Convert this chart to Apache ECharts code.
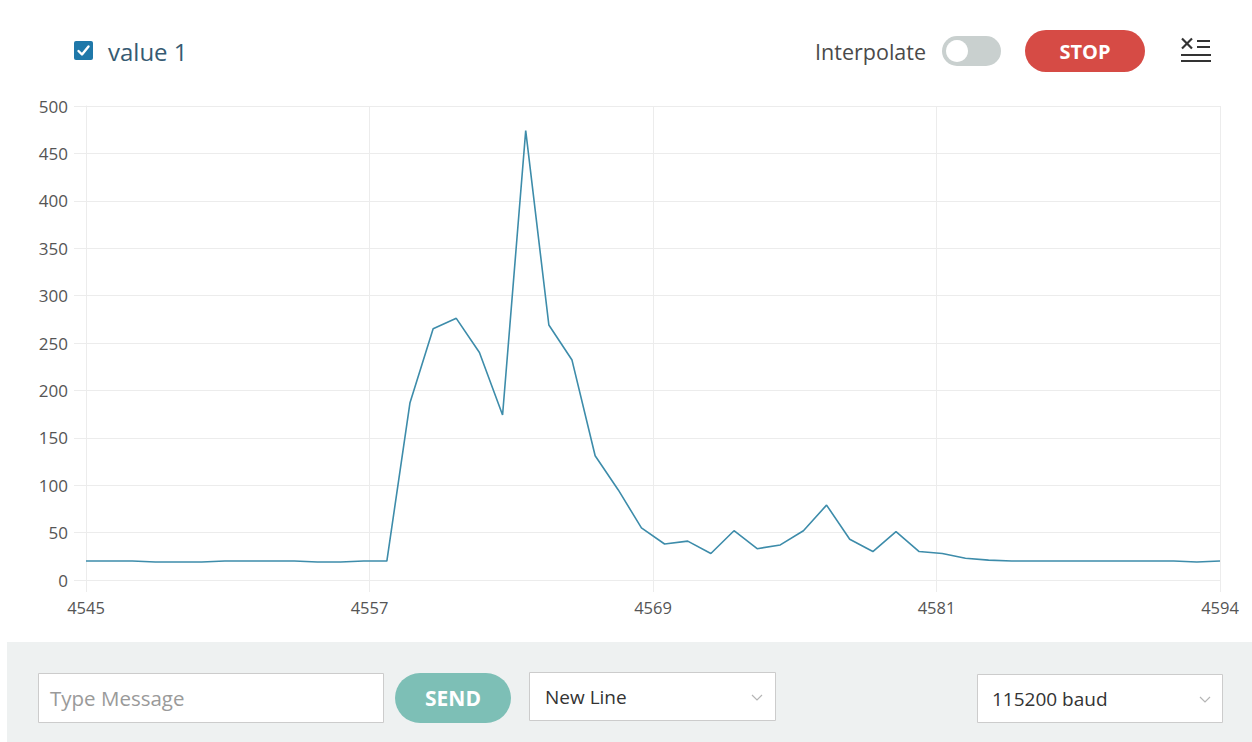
<!DOCTYPE html>
<html>
<head>
<meta charset="utf-8">
<title>Serial Plotter</title>
<script src="https://cdn.jsdelivr.net/npm/echarts@6/dist/echarts.min.js"></script>
<style>
  html, body { margin: 0; padding: 0; background: #ffffff; }
  #chart { width: 1252px; height: 742px; }
</style>
</head>
<body>
<div id="chart"></div>
<script>
// Sample numbers shown along the bottom axis
const samples = [
  4545, 4546, 4547, 4548, 4549, 4550, 4551, 4552, 4553, 4554,
  4555, 4556, 4557, 4558, 4559, 4560, 4561, 4562, 4563, 4564,
  4565, 4566, 4567, 4568, 4569, 4570, 4571, 4572, 4573, 4574,
  4575, 4576, 4577, 4578, 4579, 4580, 4581, 4582, 4583, 4584,
  4585, 4586, 4587, 4588, 4589, 4590, 4591, 4592, 4593, 4594
];
// Readings of "value 1"
const value1 = [
  20, 20, 20, 19, 19, 19, 20, 20, 20, 20,
  19, 19, 20, 20, 187, 265, 276, 240, 174, 474,
  269, 232, 131, 95, 55, 38, 41, 28, 52, 33,
  37, 52, 79, 43, 30, 51, 30, 28, 23, 21,
  20, 20, 20, 20, 20, 20, 20, 20, 19, 20
];
// Bottom axis ticks: the visible window split into four equal parts
const xTicks = [4545, 4557.25, 4569.5, 4581.75, 4594];
const yTicks = { min: 0, max: 500, step: 50 };

const seriesName = 'value 1';
const FONT = '"Open Sans", "Noto Sans", sans-serif';
const GRID = '#ececec';

const chart = echarts.init(document.getElementById('chart'), null, { renderer: 'svg' });

const ICON = '#333333';
const header = [
  // checkbox
  { type: 'rect', shape: { x: 74, y: 41, width: 19, height: 19, r: 2 }, style: { fill: '#1f78a9' } },
  { type: 'polyline', shape: { points: [[78.5, 51], [82, 54.5], [88.5, 46.5]] },
    style: { stroke: '#ffffff', lineWidth: 2.4, fill: null, lineCap: 'round', lineJoin: 'round' } },
  { type: 'text', x: 108, y: 51, style: { text: seriesName, font: '24px ' + FONT, fill: '#365a72', verticalAlign: 'middle' } },
  // interpolate switch
  { type: 'text', x: 926, y: 51, style: { text: 'Interpolate', font: '21.5px ' + FONT, fill: '#4a4a4a', align: 'right', verticalAlign: 'middle' } },
  { type: 'rect', shape: { x: 942, y: 36, width: 59, height: 30, r: 15 }, style: { fill: '#c9d0cf' } },
  { type: 'circle', shape: { cx: 957, cy: 51, r: 11 }, style: { fill: '#ffffff' } },
  // stop button
  { type: 'rect', shape: { x: 1025, y: 30, width: 120, height: 42, r: 21 }, style: { fill: '#d64b45' } },
  { type: 'text', x: 1085, y: 51, style: { text: 'STOP', font: 'bold 20px ' + FONT, fill: '#ffffff', align: 'center', verticalAlign: 'middle' } },
  // clear icon
  { type: 'line', shape: { x1: 1182, y1: 38.5, x2: 1192, y2: 48.5 }, style: { stroke: ICON, lineWidth: 2.2 } },
  { type: 'line', shape: { x1: 1192, y1: 38.5, x2: 1182, y2: 48.5 }, style: { stroke: ICON, lineWidth: 2.2 } },
  { type: 'rect', shape: { x: 1197, y: 40, width: 13, height: 2 }, style: { fill: ICON } },
  { type: 'rect', shape: { x: 1197, y: 46, width: 13, height: 2 }, style: { fill: ICON } },
  { type: 'rect', shape: { x: 1181, y: 54, width: 30, height: 2 }, style: { fill: ICON } },
  { type: 'rect', shape: { x: 1181, y: 60, width: 30, height: 2 }, style: { fill: ICON } }
];

function chevron(cx, cy) {
  return { type: 'polyline', shape: { points: [[cx - 5, cy - 3], [cx, cy + 2], [cx + 5, cy - 3]] },
    style: { stroke: '#b5b5b5', lineWidth: 1.2, fill: null } };
}

const footer = [
  { type: 'rect', shape: { x: 7, y: 642, width: 1245, height: 100 }, style: { fill: '#eef1f1' } },
  // message box
  { type: 'rect', shape: { x: 38.5, y: 673.5, width: 345, height: 49 }, style: { fill: '#ffffff', stroke: '#cccccc', lineWidth: 1 } },
  { type: 'text', x: 50, y: 698, style: { text: 'Type Message', font: '20.5px ' + FONT, fill: '#9a9a9a', verticalAlign: 'middle' } },
  // send button
  { type: 'rect', shape: { x: 395, y: 673, width: 116, height: 50, r: 25 }, style: { fill: '#7dbfb6' } },
  { type: 'text', x: 453, y: 698, style: { text: 'SEND', font: 'bold 21px ' + FONT, fill: '#ffffff', align: 'center', verticalAlign: 'middle' } },
  // line ending select
  { type: 'rect', shape: { x: 529.5, y: 672.5, width: 246, height: 48 }, style: { fill: '#ffffff', stroke: '#cccccc', lineWidth: 1 } },
  { type: 'text', x: 545, y: 697, style: { text: 'New Line', font: '19px ' + FONT, fill: '#333333', verticalAlign: 'middle' } },
  chevron(757, 698),
  // baud select
  { type: 'rect', shape: { x: 977.5, y: 674.5, width: 245, height: 48 }, style: { fill: '#ffffff', stroke: '#cccccc', lineWidth: 1 } },
  { type: 'text', x: 992, y: 699, style: { text: '115200 baud', font: '19px ' + FONT, fill: '#333333', verticalAlign: 'middle' } },
  chevron(1205, 700)
];

chart.setOption({
  backgroundColor: '#ffffff',
  animation: false,
  grid: { left: 86, right: 32, top: 106, bottom: 162, containLabel: false },
  xAxis: {
    type: 'value',
    min: samples[0],
    max: samples[samples.length - 1],
    axisLine: { show: true, lineStyle: { color: GRID, width: 1 } },
    axisTick: { show: true, length: 12, customValues: xTicks, lineStyle: { color: GRID } },
    axisLabel: {
      customValues: xTicks,
      margin: 19,
      fontSize: 16.5,
      fontFamily: FONT,
      color: '#555555',
      formatter: v => String(Math.floor(v))
    },
    splitLine: { show: true, lineStyle: { color: GRID, width: 1 } }
  },
  yAxis: {
    type: 'value',
    min: yTicks.min,
    max: yTicks.max,
    interval: yTicks.step,
    axisLine: { show: true, lineStyle: { color: GRID, width: 1 } },
    axisTick: { show: true, length: 12, lineStyle: { color: GRID } },
    axisLabel: { margin: 18, fontSize: 17, fontFamily: FONT, color: '#555555' },
    splitLine: { show: true, lineStyle: { color: GRID, width: 1 } }
  },
  series: [{
    name: seriesName,
    type: 'line',
    data: samples.map((s, i) => [s, value1[i]]),
    showSymbol: false,
    symbol: 'none',
    lineStyle: { color: '#3d8caa', width: 1.6 },
    smooth: false
  }],
  graphic: header.concat(footer)
});
</script>
</body>
</html>
